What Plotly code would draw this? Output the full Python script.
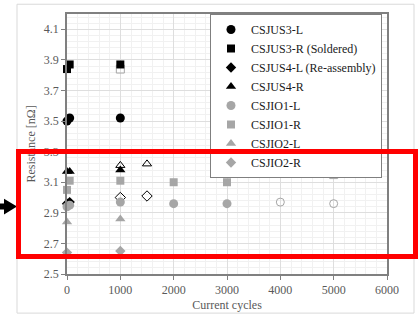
import plotly.graph_objects as go

# ---- data ----
us3l_x = [0, 50, 1000]
us3l_y = [3.50, 3.52, 3.52]
us3r_x = [0, 50, 1000]
us3r_y = [3.84, 3.87, 3.87]
us4l_x = [0, 50]
us4l_y = [2.96, 2.97]
us4r_x = [0, 50, 1000]
us4r_y = [3.17, 3.17, 3.18]
io1l_x = [0, 50, 1000, 2000, 3000]
io1l_y = [2.94, 2.95, 2.97, 2.96, 2.96]
io1r_x = [0, 50, 1000, 2000, 3000]
io1r_y = [3.05, 3.11, 3.11, 3.10, 3.10]
io2l_x = [0, 1000]
io2l_y = [2.84, 2.86]
io2r_x = [0, 1000]
io2r_y = [2.64, 2.65]

# hollow (unlisted) points
open_tri_x = [1000, 1500]
open_tri_y = [3.21, 3.22]
open_dia_x = [1000, 1500]
open_dia_y = [3.00, 3.01]
open_sq_x = [1000, 4000, 5000]
open_sq_y = [3.84, 3.16, 3.15]
open_ci_x = [4000, 5000]
open_ci_y = [2.97, 2.96]

BLACK = "#000000"
GREY = "#a6a6a6"
FONT = "Liberation Serif, Times New Roman, serif"

W, H = 420, 322
ML, MR, MT, MB = 67, 33, 12, 44
PW, PH = W - ML - MR, H - MT - MB


def px(x):
    return (x - ML) / PW


def py(y):
    return (H - MB - y) / PH


fig = go.Figure()

hollow = [
    (open_sq_x, open_sq_y, "square-open", GREY),
    (open_ci_x, open_ci_y, "circle-open", GREY),
    (open_tri_x, open_tri_y, "triangle-up-open", BLACK),
    (open_dia_x, open_dia_y, "diamond-open", BLACK),
]
for xs, ys, sym, col in hollow:
    fig.add_trace(go.Scatter(x=xs, y=ys, mode="markers", showlegend=False,
                             cliponaxis=False,
                             marker=dict(symbol=sym, size=8, color=col,
                                         line=dict(width=1, color=col))))

series = [
    ("CSJUS3-L", us3l_x, us3l_y, "circle", BLACK, 9),
    ("CSJUS3-R (Soldered)", us3r_x, us3r_y, "square", BLACK, 8),
    ("CSJUS4-L (Re-assembly)", us4l_x, us4l_y, "diamond", BLACK, 8),
    ("CSJUS4-R", us4r_x, us4r_y, "triangle-up", BLACK, 9),
    ("CSJIO1-L", io1l_x, io1l_y, "circle", GREY, 9),
    ("CSJIO1-R", io1r_x, io1r_y, "square", GREY, 8),
    ("CSJIO2-L", io2l_x, io2l_y, "triangle-up", GREY, 9),
    ("CSJIO2-R", io2r_x, io2r_y, "diamond", GREY, 8),
]
for i, (name, xs, ys, sym, col, sz) in enumerate(series):
    fig.add_trace(go.Scatter(x=xs, y=ys, mode="markers", name=name,
                             cliponaxis=False, legendrank=i + 1,
                             marker=dict(symbol=sym, size=sz, color=col,
                                         line=dict(width=0))))

axis_common = dict(
    showline=True, linecolor="#808080", linewidth=1.5, mirror=True,
    ticks="outside", ticklen=4, tickcolor="#808080",
    gridcolor="#dedede", gridwidth=1, zeroline=False,
    tickfont=dict(family=FONT, size=12, color="#595959"),
)

fig.update_xaxes(range=[0, 6000], tick0=0, dtick=1000,
                 title=dict(text="Current cycles", standoff=4,
                            font=dict(family=FONT, size=12, color="#595959")),
                 minor=dict(dtick=200, showgrid=True, gridcolor="#f1f1f1",
                            ticks=""),
                 **axis_common)
fig.update_yaxes(range=[2.5, 4.2], tick0=2.5, dtick=0.2, tickformat=".1f",
                 title=dict(text="Resistance [nΩ]", standoff=6,
                            font=dict(family=FONT, size=12, color="#595959")),
                 minor=dict(dtick=0.04, tick0=2.5, showgrid=True,
                            gridcolor="#f1f1f1", ticks=""),
                 **axis_common)

shapes = [
    dict(type="rect", xref="paper", yref="paper",
         x0=px(17), x1=px(414), y0=py(318), y1=py(2),
         line=dict(color="#d9d9d9", width=1), layer="below"),
    dict(type="path", xref="paper", yref="paper",
         path=(f"M {px(-2)},{py(206)} L {px(4)},{py(206)} L {px(4)},{py(201)} "
               f"L {px(17)},{py(209)} L {px(4)},{py(217)} L {px(4)},{py(212)} "
               f"L {px(-2)},{py(212)} Z"),
         fillcolor="#000000", line=dict(width=0), layer="above"),
]

annotations = [
    dict(xref="paper", yref="paper", x=px(216.5), y=py(206.5),
         xanchor="center", yanchor="middle", text=" ", showarrow=False,
         width=392, height=100, borderpad=0, borderwidth=5,
         bordercolor="#ff0000", bgcolor="rgba(0,0,0,0)"),
]

fig.update_layout(
    width=W, height=H,
    margin=dict(l=ML, r=MR, t=MT, b=MB),
    paper_bgcolor="white", plot_bgcolor="white",
    font=dict(family=FONT, size=12, color="#595959"),
    legend=dict(x=px(210), y=1.0, xanchor="left", yanchor="top",
                bgcolor="white", bordercolor="#7f7f7f", borderwidth=1,
                font=dict(family=FONT, size=12, color="#1a1a1a"),
                tracegroupgap=0, itemwidth=30),
    shapes=shapes,
    annotations=annotations,
)

fig.write_html("out.html")
